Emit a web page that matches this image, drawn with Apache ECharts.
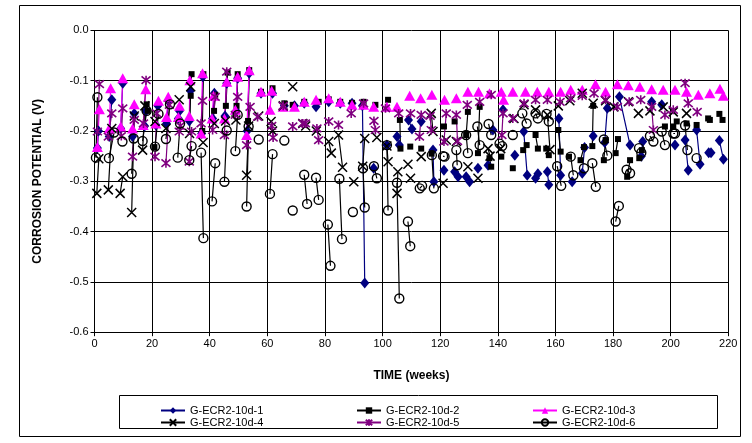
<!DOCTYPE html>
<html><head><meta charset="utf-8">
<script src="https://cdn.jsdelivr.net/npm/echarts@6/dist/echarts.min.js"></script>
<style>html,body{margin:0;padding:0;background:#fff}#c{width:752px;height:443px}</style>
</head><body><div id="c"></div>
<script>
const seriesNames = ['G-ECR2-10d-1','G-ECR2-10d-2','G-ECR2-10d-3','G-ECR2-10d-4','G-ECR2-10d-5','G-ECR2-10d-6'];
const xTicks = [0,20,40,60,80,100,120,140,160,180,200,220];
const yTicks = [-0.6,-0.5,-0.4,-0.3,-0.2,-0.1,0.0];

// each inner group = consecutive readings joined by a line; groups are not joined
const s1 = [
 [[1.0,-0.234],[1.4,-0.200]],[[5.1,-0.211],[6.0,-0.138]],[[9.1,-0.195],[9.8,-0.105]],
 [[13.2,-0.211],[13.8,-0.165]],[[17.4,-0.190],[17.9,-0.160]],[[21.3,-0.188],[22.0,-0.150]],
 [[25.0,-0.185],[25.6,-0.140]],[[29.1,-0.175],[29.5,-0.160]],[[32.9,-0.180],[33.3,-0.120]],
 [[37.2,-0.205],[37.6,-0.092]],[[41.0,-0.175],[41.6,-0.125]],[[45.3,-0.170],[45.9,-0.105]],
 [[49.2,-0.160],[49.7,-0.095]],[[53.0,-0.200],[53.7,-0.085]],[[57.8,-0.125]],[[61.8,-0.125]],
 [[65.9,-0.150]],[[69.4,-0.150]],[[72.8,-0.145]],[[76.9,-0.152]],[[81.3,-0.142]],[[85.3,-0.145]],
 [[89.4,-0.145]],[[93.0,-0.150],[93.8,-0.502]],[[96.9,-0.274]],[[101.5,-0.228]],
 [[105.0,-0.211],[105.8,-0.228]],[[109.0,-0.178],[110.2,-0.196]],[[113.4,-0.181]],
 [[117.5,-0.238],[117.8,-0.301]],[[121.3,-0.278]],[[125.0,-0.281],[126.2,-0.291]],
 [[129.0,-0.291],[130.2,-0.301]],[[133.1,-0.274]],[[136.6,-0.268]],[[138.3,-0.198]],
 [[141.8,-0.158]],[[145.9,-0.248]],[[149.0,-0.201],[150.2,-0.288]],[[153.1,-0.294],[153.9,-0.285]],
 [[157.2,-0.281],[157.7,-0.307]],[[161.2,-0.175],[161.8,-0.288]],[[165.8,-0.301]],
 [[169.3,-0.284],[170.1,-0.233]],[[173.1,-0.210]],[[177.1,-0.223],[178.0,-0.155]],
 [[182.2,-0.132],[185.9,-0.228]],[[189.8,-0.250],[190.3,-0.221]],[[193.4,-0.142]],[[196.9,-0.148]],
 [[201.5,-0.228]],[[205.0,-0.218],[206.1,-0.278]],[[209.0,-0.198],[210.2,-0.266]],
 [[213.2,-0.243],[214.0,-0.243]],[[216.9,-0.219],[218.3,-0.256]]
];
const s2 = [
 [[18.1,-0.147],[18.5,-0.160]],[[20.8,-0.232]],[[33.4,-0.130],[33.7,-0.087]],[[37.4,-0.200],[37.8,-0.087]],
 [[41.5,-0.160],[41.9,-0.128]],[[45.6,-0.150],[46.2,-0.084]],[[49.3,-0.150],[49.7,-0.087]],
 [[53.3,-0.180],[53.7,-0.079]],[[57.8,-0.122]],[[61.8,-0.115]],[[65.9,-0.145]],[[68.8,-0.148]],
 [[72.8,-0.142]],[[77.8,-0.142]],[[81.3,-0.137]],[[85.3,-0.142]],[[89.4,-0.144]],[[93.4,-0.142]],
 [[97.5,-0.148]],[[101.9,-0.138]],[[106.0,-0.178],[106.2,-0.235]],[[109.6,-0.231]],[[113.4,-0.235]],
 [[117.0,-0.245]],[[121.3,-0.191]],[[125.0,-0.181]],[[129.0,-0.208],[129.6,-0.162]],
 [[133.1,-0.244],[133.7,-0.152]],[[137.1,-0.254],[137.7,-0.271]],[[141.2,-0.251]],[[145.2,-0.274]],
 [[148.8,-0.238],[150.0,-0.228]],[[153.1,-0.208],[153.9,-0.235]],[[156.8,-0.235],[157.7,-0.248]],
 [[161.0,-0.198],[161.8,-0.241]],[[164.7,-0.251]],[[168.7,-0.258],[169.9,-0.232]],
 [[172.8,-0.230],[173.1,-0.150]],[[176.8,-0.258],[177.4,-0.218]],[[180.9,-0.244],[181.7,-0.216]],
 [[184.9,-0.291],[185.9,-0.258]],[[189.1,-0.254],[190.0,-0.238]],[[198.0,-0.191]],
 [[200.9,-0.191],[202.1,-0.181]],[[205.5,-0.185]],[[209.0,-0.188]],[[213.0,-0.175],[213.6,-0.178]],
 [[216.9,-0.166],[218.0,-0.178]]
];
const s3 = [
 [[1.0,-0.232],[1.7,-0.157]],[[5.1,-0.195],[5.6,-0.115]],[[9.1,-0.191],[9.8,-0.095]],
 [[13.2,-0.195],[13.8,-0.147]],[[16.9,-0.188],[17.8,-0.117]],[[21.3,-0.185],[22.2,-0.140]],
 [[25.0,-0.172],[25.6,-0.132]],[[29.1,-0.172],[29.5,-0.150]],[[32.9,-0.170],[33.1,-0.099]],
 [[37.0,-0.205],[37.5,-0.085]],[[40.8,-0.175],[41.3,-0.130]],[[45.1,-0.175],[45.9,-0.102]],
 [[48.9,-0.158],[49.7,-0.092]],[[52.8,-0.208],[53.7,-0.079]],[[57.8,-0.122]],
 [[60.9,-0.158],[61.5,-0.120]],[[65.5,-0.152]],[[69.4,-0.152]],[[72.8,-0.142]],[[76.9,-0.138]],
 [[81.3,-0.135]],[[85.3,-0.142]],[[89.4,-0.148]],[[93.4,-0.148]],[[96.9,-0.152]],[[101.5,-0.152]],
 [[105.0,-0.152]],[[109.4,-0.130]],[[113.2,-0.135]],[[117.1,-0.128]],[[121.5,-0.138]],[[125.6,-0.135]],
 [[129.6,-0.122]],[[133.3,-0.122]],[[137.1,-0.125]],[[141.2,-0.122],[142.0,-0.138]],[[145.2,-0.122]],
 [[149.6,-0.122]],[[153.7,-0.122]],[[157.7,-0.122]],[[161.8,-0.122]],[[165.3,-0.118]],[[169.3,-0.118]],
 [[173.9,-0.107]],[[177.4,-0.122]],[[181.5,-0.107]],[[185.3,-0.109]],[[189.3,-0.112]],[[193.4,-0.117]],
 [[197.4,-0.118]],[[201.5,-0.118]],[[205.5,-0.122]],[[209.6,-0.128]],[[213.6,-0.125]],
 [[217.1,-0.116],[218.3,-0.130]]
];
const s4 = [
 [[0.8,-0.324],[1.5,-0.255]],[[4.8,-0.317],[6.0,-0.195]],[[8.9,-0.324],[9.8,-0.291]],
 [[12.9,-0.362],[13.8,-0.170]],[[16.7,-0.238],[17.5,-0.150]],[[21.0,-0.181]],[[24.8,-0.195]],
 [[29.4,-0.138]],[[33.0,-0.205],[33.4,-0.112]],[[37.7,-0.223]],[[41.6,-0.185]],[[45.5,-0.180]],
 [[49.1,-0.178]],[[52.8,-0.288],[53.5,-0.190]],[[57.0,-0.170]],[[61.3,-0.181],[61.8,-0.200]],
 [[65.5,-0.150]],[[68.8,-0.112]],[[72.3,-0.185]],[[73.3,-0.190]],[[77.0,-0.200]],
 [[81.3,-0.221],[82.2,-0.244]],[[84.7,-0.208],[86.1,-0.272]],[[90.0,-0.301]],
 [[93.1,-0.270],[93.8,-0.215]],[[98.0,-0.213]],[[101.5,-0.230],[101.9,-0.261]],
 [[105.0,-0.324],[105.3,-0.281]],[[108.8,-0.266]],[[109.7,-0.294]],[[113.4,-0.251]],
 [[116.9,-0.165],[117.5,-0.201]],[[121.0,-0.304]],[[122.1,-0.218]],[[125.6,-0.221]],[[129.6,-0.271]],
 [[133.1,-0.294]],[[136.6,-0.235],[137.3,-0.250]],[[141.0,-0.235]],[[145.6,-0.175]],[[149.1,-0.148]],
 [[153.1,-0.158]],[[157.2,-0.168],[158.1,-0.237]],[[161.0,-0.150]],[[165.0,-0.140]],[[169.3,-0.125]],
 [[173.1,-0.145]],[[177.4,-0.140]],[[180.3,-0.152]],[[185.3,-0.142]],[[188.8,-0.165]],[[192.8,-0.160]],
 [[197.4,-0.152]],[[200.9,-0.162]],[[205.5,-0.165]]
];
const s5 = [
 [[1.0,-0.201],[1.7,-0.107]],[[4.8,-0.211],[6.0,-0.165]],[[9.3,-0.210],[9.8,-0.155]],
 [[13.2,-0.251],[13.8,-0.178]],[[17.0,-0.185],[17.9,-0.099]],[[21.0,-0.251],[21.6,-0.165]],
 [[24.8,-0.264],[26.0,-0.148]],[[29.4,-0.201],[29.8,-0.190]],[[32.9,-0.261],[33.7,-0.201]],
 [[37.0,-0.185],[37.5,-0.140]],[[41.0,-0.198],[41.9,-0.132]],[[45.1,-0.208],[45.9,-0.082]],
 [[48.9,-0.168],[49.7,-0.132]],[[52.8,-0.228],[54.0,-0.152]],[[56.6,-0.172]],
 [[61.5,-0.190],[62.0,-0.213]],[[65.5,-0.150]],[[68.8,-0.191]],[[72.3,-0.185]],[[73.2,-0.185]],
 [[77.2,-0.195],[77.8,-0.218]],[[81.3,-0.181]],[[84.7,-0.188]],[[89.1,-0.165]],[[93.4,-0.145]],
 [[97.0,-0.180],[97.5,-0.198]],[[101.0,-0.155]],[[105.6,-0.165]],[[109.7,-0.165]],
 [[112.8,-0.211],[113.4,-0.168]],[[116.5,-0.170],[116.9,-0.198]],[[121.3,-0.221],[122.1,-0.165]],
 [[125.6,-0.168],[126.0,-0.220]],[[129.4,-0.148]],[[133.7,-0.142]],[[137.7,-0.128]],
 [[141.4,-0.208],[141.8,-0.165]],[[145.2,-0.175]],[[149.1,-0.145]],[[153.1,-0.138]],[[157.2,-0.138]],
 [[161.6,-0.142]],[[165.3,-0.135]],[[169.3,-0.130]],[[173.4,-0.125]],[[177.4,-0.138]],[[181.5,-0.152]],
 [[185.6,-0.142]],[[189.6,-0.138]],[[193.4,-0.152],[194.0,-0.198]],[[198.0,-0.168]],[[200.9,-0.158]],
 [[205.0,-0.105],[206.1,-0.145]],[[209.2,-0.162]]
];
const s6 = [
 [[0.5,-0.253],[1.0,-0.133]],[[5.0,-0.254],[6.8,-0.203]],[[9.7,-0.221]],[[12.9,-0.285],[13.6,-0.215]],
 [[16.7,-0.220],[18.1,-0.160]],[[21.0,-0.231],[22.2,-0.166]],[[24.8,-0.216],[26.2,-0.147]],
 [[28.9,-0.253],[29.7,-0.185]],[[32.9,-0.258],[33.7,-0.230]],[[37.0,-0.243],[37.8,-0.413]],
 [[40.8,-0.340],[41.9,-0.264]],[[45.1,-0.301],[45.9,-0.199]],[[48.9,-0.240],[49.7,-0.168]],
 [[52.8,-0.350],[53.5,-0.191]],[[57.0,-0.217]],[[60.9,-0.325],[61.8,-0.246]],[[65.9,-0.219]],
 [[68.8,-0.358]],[[72.8,-0.287],[73.8,-0.345]],[[76.9,-0.293],[77.8,-0.337]],[[81.0,-0.386],[81.9,-0.468]],
 [[85.0,-0.295],[85.9,-0.415]],[[89.7,-0.361]],[[93.2,-0.274],[93.8,-0.352]],[[97.0,-0.270],[98.0,-0.294]],
 [[101.5,-0.228],[101.9,-0.358]],[[105.0,-0.303],[105.8,-0.533]],[[108.8,-0.380],[109.6,-0.429]],
 [[112.9,-0.314],[113.7,-0.309]],[[117.1,-0.248],[117.8,-0.314]],[[121.0,-0.250],[121.5,-0.251]],
 [[125.6,-0.238],[125.9,-0.268]],[[129.0,-0.208],[129.6,-0.244]],[[132.9,-0.191],[133.7,-0.228]],
 [[136.8,-0.186],[137.7,-0.208]],[[140.6,-0.225],[141.5,-0.230]],[[145.2,-0.208]],
 [[148.5,-0.165],[150.0,-0.185]],[[153.1,-0.165],[153.9,-0.175]],[[156.9,-0.166],[157.7,-0.181]],
 [[160.6,-0.270],[162.0,-0.309]],[[165.3,-0.251],[166.2,-0.288]],[[169.9,-0.274]],
 [[172.8,-0.264],[174.0,-0.311]],[[176.8,-0.217],[178.0,-0.249]],[[180.9,-0.380],[182.0,-0.349]],
 [[184.7,-0.277],[185.9,-0.284]],[[189.0,-0.234],[189.8,-0.243]],[[192.8,-0.210],[194.0,-0.221]],
 [[196.9,-0.201],[198.0,-0.228]],[[200.9,-0.205],[201.5,-0.205]],[[205.0,-0.189],[205.8,-0.238]],
 [[209.0,-0.254]]
];

function build(groups){
  const out = [];
  groups.forEach((g,i)=>{
    if(i>0) out.push([g[0][0],'-']);
    g.forEach(p=>out.push(p));
  });
  return out;
}

const FONT = '"Liberation Sans", Arial, sans-serif';
const chart = echarts.init(document.getElementById('c'), null, {renderer:'canvas'});

function mk(name, data, symbol, size, color, itemStyle){
  return {
    name, type:'line', data: build(data), symbol, symbolSize: size, showAllSymbol:true,
    connectNulls:false, animation:false,
    lineStyle:{color, width:1.2},
    itemStyle: itemStyle || {color},
    emphasis:{disabled:true}
  };
}
const X_PATH = 'path://M0,0L10,10M10,0L0,10';
const STAR_PATH = 'path://M0,0L10,10M10,0L0,10M5,-1L5,11';

const series = [
  mk(seriesNames[0], s1, 'diamond', [9,11], '#000080'),
  mk(seriesNames[1], s2, 'rect', 6, '#000000'),
  mk(seriesNames[2], s3, 'triangle', [11,10], '#FF00FF'),
  mk(seriesNames[3], s4, X_PATH, 9, '#000000', {color:'rgba(0,0,0,0)', borderColor:'#000', borderWidth:1.5}),
  mk(seriesNames[4], s5, STAR_PATH, 9, '#800080', {color:'rgba(0,0,0,0)', borderColor:'#800080', borderWidth:1.6}),
  mk(seriesNames[5], s6, 'circle', 9, '#000000', {color:'rgba(255,255,255,0)', borderColor:'#000', borderWidth:1.4})
];

const legendCommon = {orient:'vertical', itemWidth:24, itemHeight:8, itemGap:1, selectedMode:false,
  textStyle:{fontFamily:FONT, fontSize:11, color:'#000'}};

chart.setOption({
  backgroundColor:'#fff',
  animation:false,
  grid:{left:94.5, right:23.7, top:30.4, bottom:110.8, containLabel:false},
  xAxis:{type:'value', min:xTicks[0], max:xTicks[xTicks.length-1], interval:20,
    name:'TIME (weeks)', nameLocation:'middle', nameGap:37,
    nameTextStyle:{fontFamily:FONT, fontSize:12, fontWeight:'bold', color:'#000'},
    axisLine:{show:true, onZero:false, lineStyle:{color:'#000', width:1}},
    axisTick:{show:true, inside:false, length:4, lineStyle:{color:'#000'}},
    axisLabel:{fontFamily:FONT, fontSize:11, color:'#000', margin:6},
    splitLine:{show:true, lineStyle:{color:'#000', width:1}}},
  yAxis:{type:'value', min:yTicks[0], max:yTicks[yTicks.length-1], interval:0.1,
    name:'CORROSION POTENTIAL (V)', nameLocation:'middle', nameGap:51, nameRotate:90,
    nameTextStyle:{fontFamily:FONT, fontSize:12, fontWeight:'bold', color:'#000'},
    axisLine:{show:true, onZero:false, lineStyle:{color:'#000', width:1}},
    axisTick:{show:true, inside:false, length:4, lineStyle:{color:'#000'}},
    axisLabel:{fontFamily:FONT, fontSize:11, color:'#000', margin:6, formatter:v=>Number(v).toFixed(1)},
    splitLine:{show:true, lineStyle:{color:'#000', width:1}}},
  legend:[
    Object.assign({left:155, top:400, data:[seriesNames[0],seriesNames[3]]}, legendCommon),
    Object.assign({left:351, top:400, data:[seriesNames[1],seriesNames[4]]}, legendCommon),
    Object.assign({left:527, top:400, data:[seriesNames[2],seriesNames[5]]}, legendCommon)
  ],
  graphic:[
    {type:'rect', shape:{x:19.5, y:5.5, width:721, height:431}, style:{fill:'none', stroke:'#000', lineWidth:1}, silent:true, z:-10},
    {type:'rect', shape:{x:119.5, y:395.5, width:598, height:33}, style:{fill:'none', stroke:'#000', lineWidth:1}, silent:true}
  ],
  series
});
</script></body></html>
